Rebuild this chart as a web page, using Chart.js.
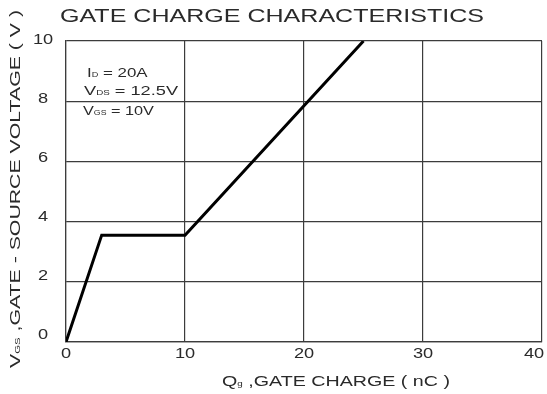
<!DOCTYPE html>
<html>
<head>
<meta charset="utf-8">
<script src="https://cdn.jsdelivr.net/npm/chart.js@4.4.0/dist/chart.umd.min.js"></script>
<style>
  body { margin: 0; background: #fff; }
  #wrap { width: 547px; height: 394px; }
</style>
</head>
<body>
<div id="wrap"><canvas id="chart" width="547" height="394"></canvas></div>
<script>
// data
const chargeNc = [0, 3, 10, 25];
const gateVolts = [0, 3.55, 3.55, 10];
const xTicks = [0, 10, 20, 30, 40];
const yTicks = [0, 2, 4, 6, 8, 10];

const FONT = '"Liberation Sans", Arial, sans-serif';
const INK = '#2a2a2a';
const STRETCH = 1.3; // the reference lettering is wide

function partFont(p, size) {
    return (p.sub ? Math.round(size * 0.5) : size) + 'px ' + FONT;
}

function richWidth(ctx, parts, size) {
    let w = 0;
    parts.forEach(p => {
        ctx.font = partFont(p, size);
        w += ctx.measureText(p.t).width;
    });
    return w;
}

// draws parts squeezed/stretched so they run from x0 to x1
function fitText(ctx, parts, x0, x1, y, size) {
    const w = richWidth(ctx, parts, size);
    ctx.save();
    ctx.translate(x0, y);
    ctx.scale((x1 - x0) / w, 1);
    let cx = 0;
    parts.forEach(p => {
        ctx.font = partFont(p, size);
        ctx.fillText(p.t, cx, p.sub ? size * 0.15 : 0);
        cx += ctx.measureText(p.t).width;
    });
    ctx.restore();
}

function wideText(ctx, parts, x0, y, size, k) {
    const w = richWidth(ctx, parts, size) * k;
    fitText(ctx, parts, x0, x0 + w, y, size);
}

function centredText(ctx, str, x, y, size) {
    ctx.font = size + 'px ' + FONT;
    const w = ctx.measureText(str).width * STRETCH;
    fitText(ctx, [{t: str}], x - w / 2, x + w / 2, y, size);
}

const labelsPlugin = {
    id: 'labels',
    afterDraw(chart) {
        const ctx = chart.ctx;
        const xs = chart.scales.x, ys = chart.scales.y;
        ctx.save();
        ctx.fillStyle = INK;
        ctx.textBaseline = 'middle';
        ctx.textAlign = 'left';

        // tick labels
        xTicks.forEach(v => {
            let px = xs.getPixelForValue(v);
            if (v === xTicks[xTicks.length - 1]) px -= 8;
            centredText(ctx, String(v), px, ys.bottom + 12, 14);
        });
        yTicks.forEach(v => {
            centredText(ctx, String(v), 43, ys.getPixelForValue(v) - 7 + v * 0.6, 14);
        });

        // title
        fitText(ctx, [{t: 'GATE CHARGE CHARACTERISTICS'}], 60, 484, 17, 18);

        // x axis title
        fitText(ctx, [{t: 'Q'}, {t: 'g', sub: true}, {t: ' ,GATE CHARGE ( nC )'}], 222, 450, 382, 14);

        // y axis title
        ctx.save();
        ctx.translate(16, 0);
        ctx.rotate(-Math.PI / 2);
        fitText(ctx, [{t: 'V'}, {t: 'GS', sub: true}, {t: ' ,GATE - SOURCE VOLTAGE ( V )'}], -368, -10, 0, 15);
        ctx.restore();

        // test conditions
        wideText(ctx, [{t: 'I'}, {t: 'D', sub: true}, {t: ' = 20A'}], 87, 73, 13, 1.3);
        wideText(ctx, [{t: 'V'}, {t: 'DS', sub: true}, {t: ' = 12.5V'}], 84, 91, 13, 1.4);
        wideText(ctx, [{t: 'V'}, {t: 'GS', sub: true}, {t: ' = 10V'}], 83, 111, 13, 1.25);
        ctx.restore();
    }
};

new Chart(document.getElementById('chart'), {
    type: 'scatter',
    data: {
        datasets: [{
            data: chargeNc.map((q, i) => ({x: q, y: gateVolts[i]})),
            showLine: true,
            borderColor: '#000',
            borderWidth: 3,
            pointRadius: 0,
            tension: 0
        }]
    },
    options: {
        responsive: false,
        animation: false,
        layout: { padding: { left: 66, right: 5, top: 41, bottom: 52 } },
        plugins: { legend: { display: false }, tooltip: { enabled: false } },
        scales: {
            x: {
                min: 0, max: 40,
                ticks: { display: false, stepSize: 10 },
                grid: { color: '#3c3c3c', lineWidth: 1.2, drawTicks: false },
                border: { color: '#3c3c3c', width: 1.2 }
            },
            y: {
                min: 0, max: 10,
                ticks: { display: false, stepSize: 2 },
                grid: { color: '#3c3c3c', lineWidth: 1.2, drawTicks: false },
                border: { color: '#3c3c3c', width: 1.2 }
            }
        }
    },
    plugins: [labelsPlugin]
});
</script>
</body>
</html>
